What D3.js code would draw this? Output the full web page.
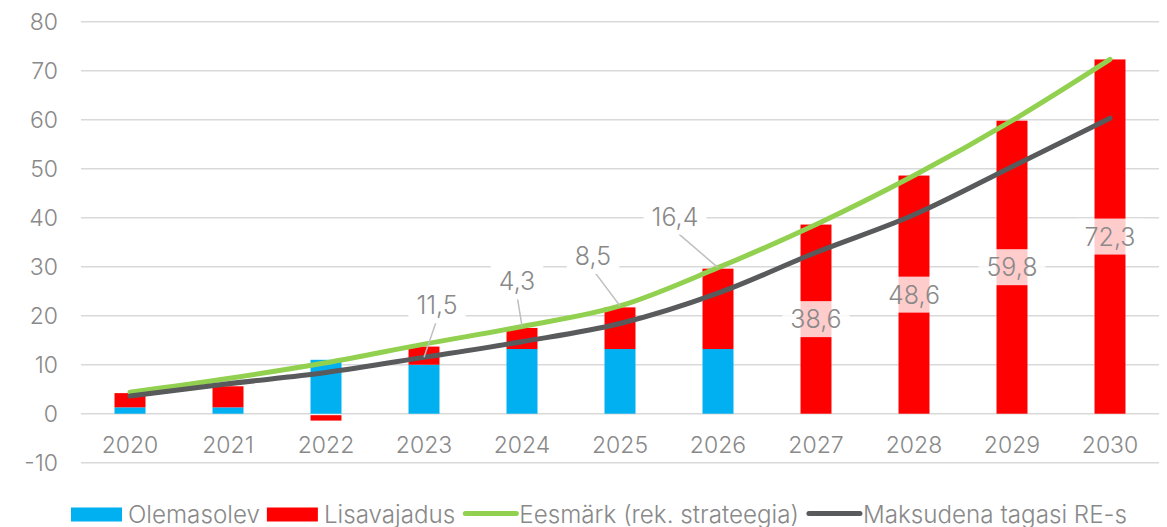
<!DOCTYPE html>
<html>
<head>
<meta charset="utf-8">
<script src="https://cdn.jsdelivr.net/npm/d3@7"></script>
<style>
  html, body { margin: 0; padding: 0; background: #fff; }
  svg { display: block; }
  text { font-family: "Inter", "Lato", sans-serif; font-weight: 300; fill: #898989; }
</style>
</head>
<body>
<svg id="chart" width="1167" height="527"></svg>
<script>
// ---- data ----
const years = ["2020","2021","2022","2023","2024","2025","2026","2027","2028","2029","2030"];
const olemasolev = [1.3, 1.3, 11.0, 10.0, 13.2, 13.2, 13.2, 0, 0, 0, 0];
const lisavajadus = [2.9, 4.3, -1.1, 3.7, 4.3, 8.5, 16.4, 38.6, 48.6, 59.8, 72.3];
const eesmark = [4.4, 7.2, 10.4, 14.2, 17.8, 22.0, 29.8, 38.6, 48.6, 59.8, 72.3];
const maksudena = [3.6, 6.1, 8.4, 11.5, 14.7, 18.4, 24.6, 32.9, 40.6, 50.4, 60.3];
const labelTexts = [null, null, null, "11,5", "4,3", "8,5", "16,4", "38,6", "48,6", "59,8", "72,3"];
const yTicks = [-10, 0, 10, 20, 30, 40, 50, 60, 70, 80];
const yTickLabels = ["-10", "0", "10", "20", "30", "40", "50", "60", "70", "80"];
const seriesNames = ["Olemasolev", "Lisavajadus", "Eesmärk (rek. strateegia)", "Maksudena tagasi RE-s"];

// ---- layout / style ----
const FONT = "Inter, Lato, sans-serif";
const C = { blue: "#00B0F0", red: "#FF0000", green: "#92D050", dark: "#585A5C", grid: "#D9D9D9", leader: "#BFBFBF" };
const plot = { left: 81, right: 1159, top: 21.7, bottom: 462.7 };
// label placement: which value the label refers to, and text offset from that point (px)
const labelLayout = [null, null, null,
  { anchor: "dark", dx: 13, dy: -52 },
  { anchor: "green", dx: -5, dy: -45 },
  { anchor: "green", dx: -27, dy: -50 },
  { anchor: "green", dx: -43, dy: -51 },
  { anchor: "mid" }, { anchor: "mid" }, { anchor: "mid" }, { anchor: "mid" }];

const svg = d3.select("#chart");

const x = d3.scaleBand().domain(years).range([plot.left, plot.right])
  .paddingInner(0.684).paddingOuter(0.342);
const y = d3.scaleLinear().domain([-10, 80]).range([plot.bottom, plot.top]);
const cx = d => x(d) + x.bandwidth() / 2;

// gridlines
svg.append("g").selectAll("line").data(yTicks).join("line")
  .attr("x1", plot.left).attr("x2", plot.right)
  .attr("y1", d => y(d)).attr("y2", d => y(d))
  .attr("stroke", C.grid).attr("stroke-width", 1.4);

// y axis labels
const yAxis = d3.axisLeft(y).tickValues(yTicks).tickSize(0).tickPadding(0)
  .tickFormat((d, i) => yTickLabels[i]);
const gy = svg.append("g").attr("transform", "translate(58,0)").call(yAxis);
gy.select(".domain").remove();
gy.selectAll("text").attr("font-size", 23).attr("fill", "#898989")
  .style("font-family", FONT).style("font-weight", 300).attr("dy", "0.36em");

// x axis labels
const xAxis = d3.axisBottom(x).tickSize(0).tickPadding(0);
const gx = svg.append("g").attr("transform", `translate(0,${y(0) + 23})`).call(xAxis);
gx.select(".domain").remove();
gx.selectAll("text").attr("font-size", 23).attr("fill", "#898989")
  .style("font-family", FONT).style("font-weight", 300).attr("dy", "0.71em");

// bars
const rows = years.map((yr, i) => ({ yr, b: olemasolev[i], r: lisavajadus[i] }));
const bars = svg.append("g");
bars.selectAll("rect.blue").data(rows).join("rect").attr("class", "blue")
  .attr("x", d => x(d.yr)).attr("width", x.bandwidth())
  .attr("y", d => y(Math.max(0, d.b))).attr("height", d => Math.abs(y(d.b) - y(0)))
  .attr("fill", C.blue);
bars.selectAll("rect.red").data(rows).join("rect").attr("class", "red")
  .attr("x", d => x(d.yr)).attr("width", x.bandwidth())
  .attr("y", d => d.r >= 0 ? y(d.b + d.r) : y(0) + 1.5)
  .attr("height", d => d.r >= 0 ? y(d.b) - y(d.b + d.r) : y(d.r) - y(0))
  .attr("fill", C.red);

// lines
const line = d3.line().curve(d3.curveCatmullRom.alpha(0.5))
  .x((d, i) => cx(years[i])).y(d => y(d));
svg.append("path").datum(eesmark).attr("d", line)
  .attr("fill", "none").attr("stroke", C.green).attr("stroke-width", 5).attr("stroke-linecap", "round");
svg.append("path").datum(maksudena).attr("d", line)
  .attr("fill", "none").attr("stroke", C.dark).attr("stroke-width", 5).attr("stroke-linecap", "round");

// data labels
const lg = svg.append("g");
labelTexts.forEach((t, i) => {
  if (!t) return;
  const L = labelLayout[i];
  const px = cx(years[i]);
  let ax, ay, tx, ty;
  if (L.anchor === "mid") {
    tx = px; ty = y((olemasolev[i] + lisavajadus[i]) / 2);
  } else {
    ax = px; ay = y(L.anchor === "dark" ? maksudena[i] : eesmark[i]);
    tx = ax + L.dx; ty = ay + L.dy;
  }
  const g = lg.append("g");
  const rect = g.append("rect");
  const txt = g.append("text").attr("x", tx).attr("y", ty).attr("dy", "0.36em")
    .attr("text-anchor", "middle").attr("font-size", 25).text(t);
  const w = txt.node().getComputedTextLength();
  rect.attr("x", tx - w / 2 - 8).attr("width", w + 16)
    .attr("y", ty - 18).attr("height", 36)
    .attr("fill", "#fff").attr("fill-opacity", L.anchor === "mid" ? 0.8 : 1);
  if (L.anchor !== "mid") {
    g.insert("line", "rect").attr("x1", tx).attr("y1", ty + 14).attr("x2", ax).attr("y2", ay)
      .attr("stroke", C.leader).attr("stroke-width", 1.5);
  }
});

// legend
const legend = svg.append("g");
const legendItems = [
  { name: seriesNames[0], type: "rect", color: C.blue },
  { name: seriesNames[1], type: "rect", color: C.red },
  { name: seriesNames[2], type: "line", color: C.green },
  { name: seriesNames[3], type: "line", color: C.dark }
];
let lx = 71;
const ly = 514.5;
legendItems.forEach(it => {
  if (it.type === "rect") {
    legend.append("rect").attr("x", lx).attr("y", ly - 7).attr("width", 51).attr("height", 14).attr("fill", it.color);
  } else {
    legend.append("line").attr("x1", lx + 3).attr("x2", lx + 54).attr("y1", ly - 1).attr("y2", ly - 1)
      .attr("stroke", it.color).attr("stroke-width", 5).attr("stroke-linecap", "round");
  }
  const t = legend.append("text").attr("x", lx + 57).attr("y", ly + 8)
    .attr("font-size", 24.2).text(it.name);
  lx += 57 + t.node().getComputedTextLength() + 7;
});
</script>
</body>
</html>
